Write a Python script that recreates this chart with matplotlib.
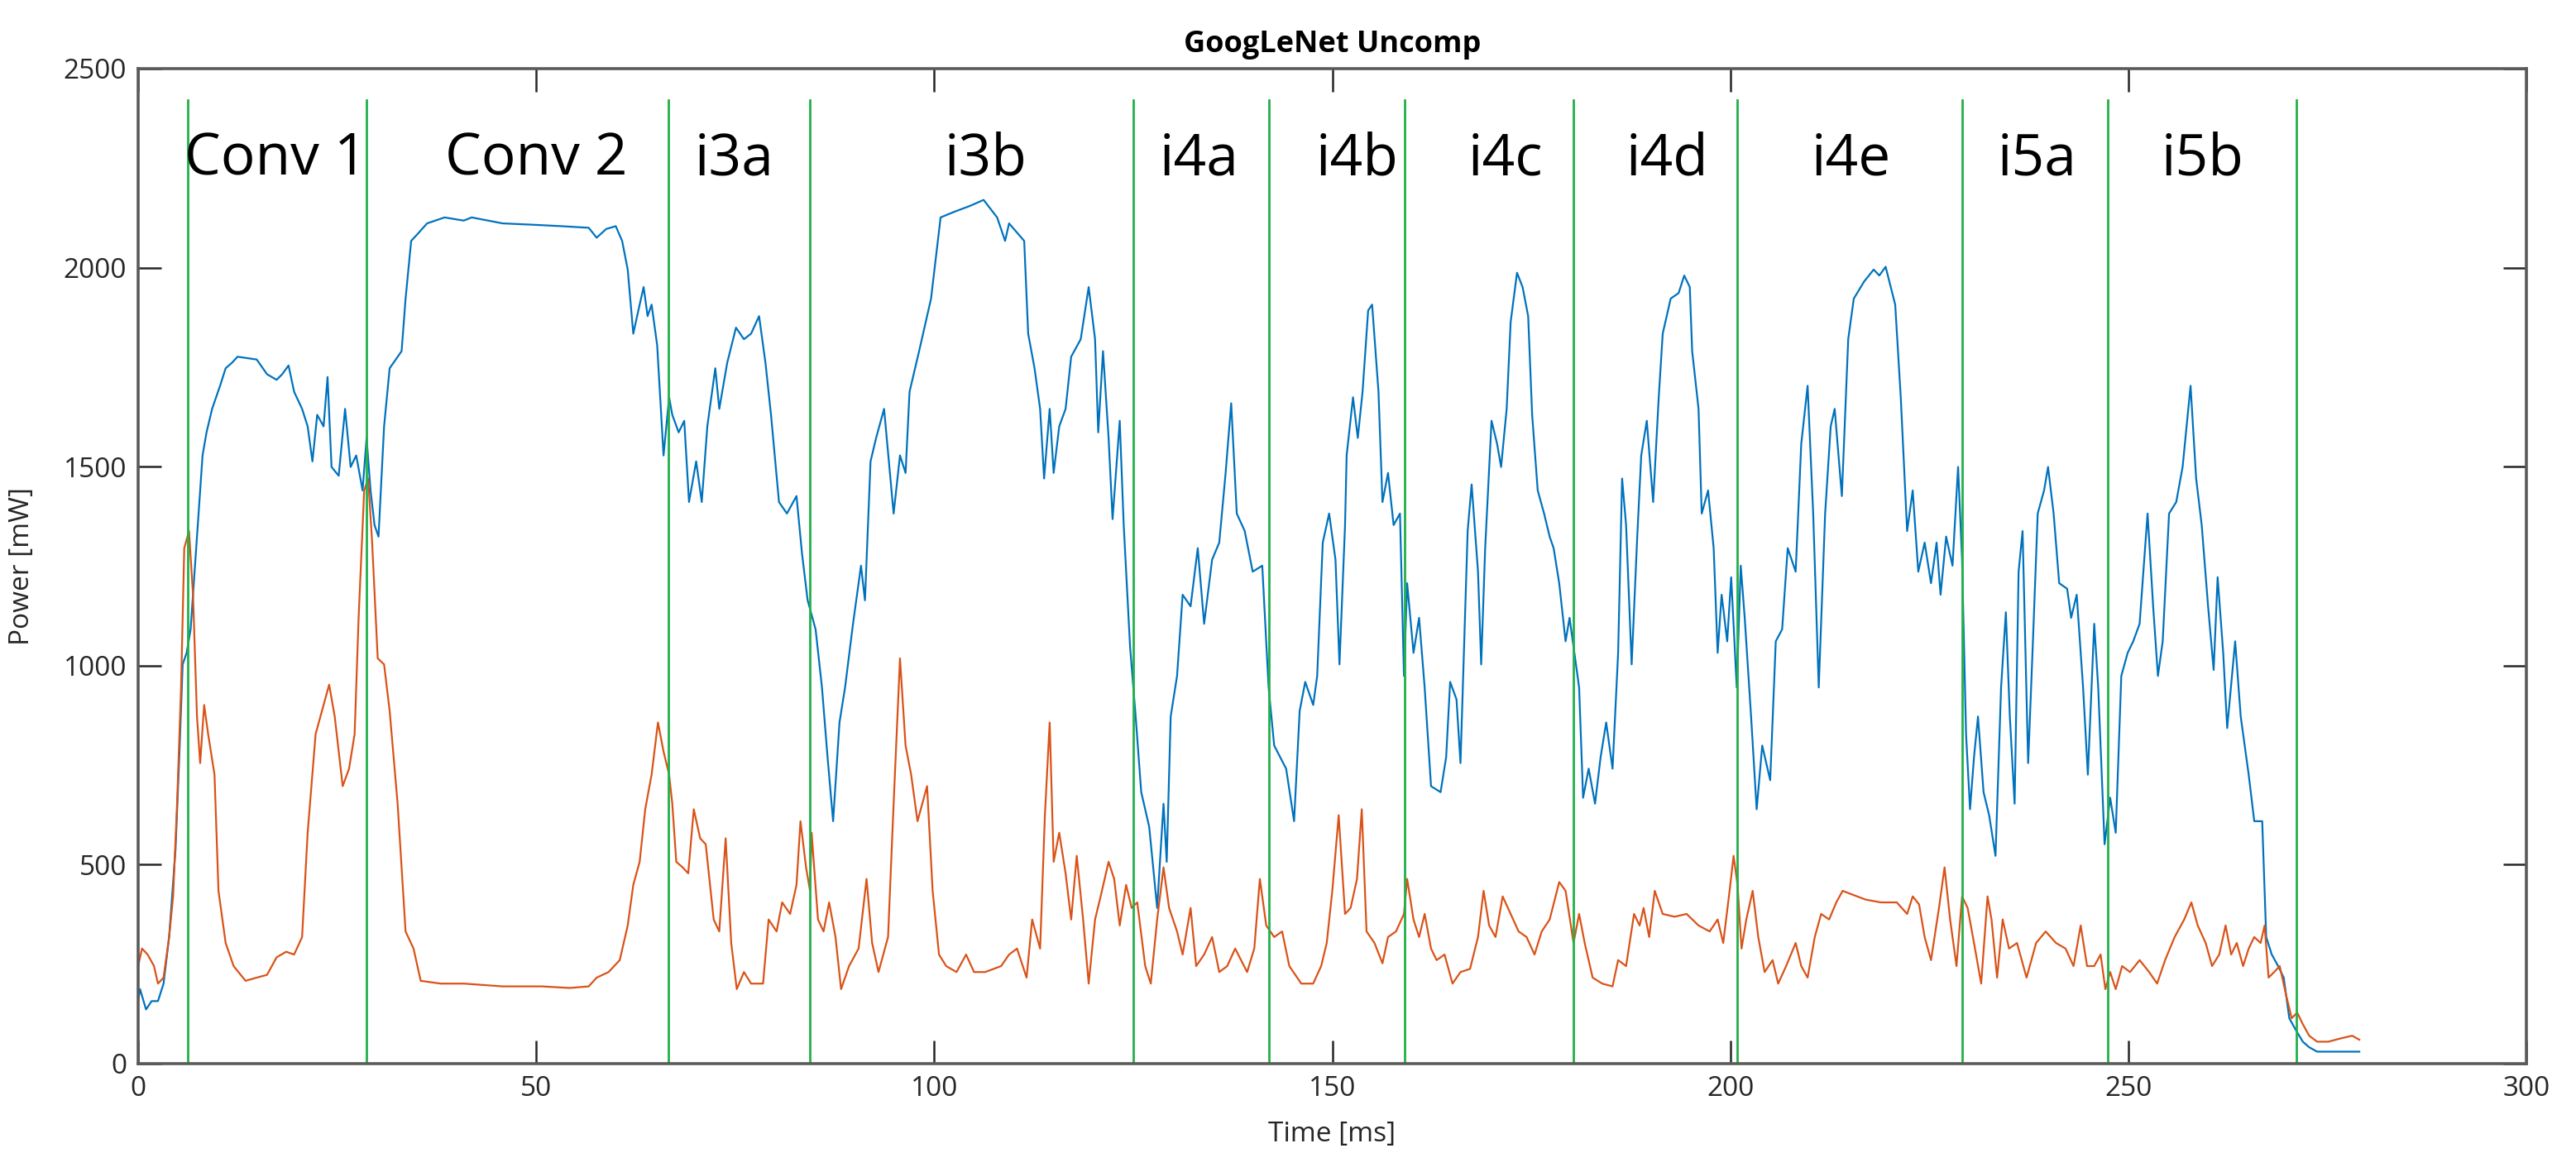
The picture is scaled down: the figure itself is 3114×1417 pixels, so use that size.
import matplotlib
matplotlib.use("Agg")
import matplotlib.pyplot as plt

plt.rcParams['font.family'] = ['Open Sans', 'DejaVu Sans']

# --- datos (tiempo en ms, potencia en mW) ---
blue_t = [0, 0.25, 1.0, 1.7, 2.5, 3.2, 3.9, 4.7, 5.2, 5.6, 6.1, 6.6, 7.1, 7.6, 8.1, 8.6, 9.3, 9.8,
          10.3, 11.0, 11.8, 12.5, 13.5, 14.9, 16.2, 17.4, 18.1, 18.9, 19.6, 20.6, 21.3, 21.9, 22.5,
          23.3, 23.8, 24.3, 25.2, 26.0, 26.7, 27.4, 28.2, 28.7, 29.2, 29.7, 30.2, 30.9, 31.6, 33.1,
          33.6, 34.3, 35.0, 36.3, 38.5, 40.9, 41.9, 45.8, 49.2, 53.2, 56.6, 57.6, 58.8, 60.0, 60.8,
          61.5, 62.2, 63.0, 63.5, 64.0, 64.5, 65.2, 66.0, 66.7, 67.1, 67.9, 68.6, 69.2, 70.1, 70.8,
          71.5, 72.5, 73.0, 74.0, 75.1, 76.1, 77.0, 78.0, 78.8, 79.5, 80.5, 81.5, 82.7, 83.4, 84.1,
          85.1, 85.9, 86.6, 87.3, 88.1, 88.8, 89.8, 90.8, 91.3, 92.0, 92.7, 93.7, 94.9, 95.7, 96.4,
          96.9, 98.1, 99.6, 100.8, 102.5, 104.5, 106.2, 107.9, 108.9, 109.4, 111.3, 111.8, 112.6,
          113.3, 113.8, 114.5, 115.0, 115.7, 116.5, 117.2, 118.4, 119.4, 120.2, 120.6, 121.2, 121.9,
          122.4, 123.3, 123.8, 124.6, 125.3, 126.0, 127.0, 128.0, 128.8, 129.2, 129.7, 130.5, 131.2,
          132.2, 133.1, 133.9, 134.9, 135.8, 136.6, 137.3, 138.0, 139.0, 140.0, 141.2, 142.0, 142.7,
          144.2, 145.2, 145.9, 146.6, 147.6, 148.1, 148.8, 149.6, 150.4, 150.9, 151.6, 151.8, 152.6,
          153.2, 153.8, 154.5, 155.0, 155.8, 156.3, 157.0, 157.7, 158.5, 159.0, 159.4, 160.2, 160.9,
          161.6, 162.4, 163.6, 164.3, 164.8, 165.6, 166.1, 167.0, 167.5, 168.3, 168.7, 169.2, 170.0,
          170.7, 171.2, 171.9, 172.4, 173.2, 173.9, 174.6, 175.1, 175.8, 176.6, 177.3, 177.8, 178.5,
          179.3, 179.8, 180.3, 181.0, 181.5, 182.2, 183.0, 183.7, 184.4, 185.2, 185.9, 186.4, 186.9,
          187.6, 188.3, 188.8, 189.5, 190.3, 191.0, 191.5, 192.5, 193.5, 194.2, 194.9, 195.2, 196.0,
          196.4, 197.2, 197.9, 198.4, 198.9, 199.6, 200.1, 200.8, 201.3, 201.8, 202.6, 203.3, 204.0,
          205.0, 205.7, 206.5, 207.2, 208.2, 208.9, 209.7, 210.4, 211.1, 211.9, 212.6, 213.1, 214.0,
          214.8, 215.5, 216.8, 218.0, 218.7, 219.5, 220.7, 221.4, 222.2, 222.9, 223.6, 224.4, 225.2,
          225.9, 226.4, 227.1, 227.9, 228.6, 229.1, 229.6, 230.1, 230.6, 231.1, 231.8, 232.5, 233.3,
          234.0, 234.6, 235.1, 235.7, 236.2, 236.7, 237.4, 238.0, 238.6, 239.4, 239.9, 240.6, 241.3,
          242.3, 242.8, 243.5, 244.3, 244.9, 245.7, 246.2, 247.0, 247.7, 248.4, 249.1, 249.9, 250.6,
          251.4, 252.4, 253.1, 253.7, 254.3, 255.1, 256.0, 256.8, 257.8, 258.5, 259.2, 260.0, 260.7,
          261.2, 261.9, 262.4, 263.4, 264.1, 265.1, 265.8, 266.8, 267.3, 268.0, 268.8, 269.5, 270.2,
          271.0, 271.9, 272.7, 273.7, 279.0]
blue_p = [157, 187, 136, 157, 157, 201, 318, 537, 784, 1003, 1032, 1091, 1236, 1382, 1528, 1586, 1645, 1674,
          1703, 1747, 1761, 1776, 1773, 1769, 1732, 1718, 1732, 1754, 1688, 1645, 1601, 1513, 1630,
          1601, 1725, 1499, 1477, 1645, 1499, 1528, 1440, 1572, 1440, 1353, 1324, 1601, 1747, 1790,
          1922, 2067, 2082, 2111, 2126, 2118, 2126, 2111, 2108, 2104, 2100, 2075, 2097, 2104, 2067,
          1995, 1834, 1907, 1951, 1878, 1907, 1805, 1528, 1674, 1630, 1586, 1615, 1411, 1513, 1411,
          1601, 1747, 1645, 1761, 1849, 1820, 1834, 1878, 1761, 1630, 1411, 1382, 1426, 1280, 1164,
          1091, 945, 770, 609, 857, 945, 1105, 1251, 1164, 1513, 1572, 1645, 1382, 1528, 1484,
          1688, 1790, 1922, 2126, 2140, 2155, 2170, 2126, 2067, 2111, 2067, 1834, 1747,
          1645, 1470, 1645, 1484, 1601, 1645, 1776, 1820, 1951, 1820, 1586, 1790, 1572,
          1368, 1615, 1353, 1047, 872, 682, 595, 391, 653, 507, 872, 974, 1178,
          1149, 1295, 1105, 1266, 1309, 1484, 1659, 1382, 1338, 1236, 1251, 945, 799,
          741, 609, 886, 959, 901, 974, 1309, 1382, 1266, 1003, 1353, 1528, 1674,
          1572, 1688, 1892, 1907, 1688, 1411, 1484, 1353, 1382, 974, 1207, 1032, 1120,
          945, 697, 682, 770, 959, 915, 755, 1338, 1455, 1236, 1003, 1295, 1615,
          1557, 1499, 1645, 1863, 1987, 1951, 1878, 1630, 1440, 1382, 1324, 1295, 1207,
          1061, 1120, 1047, 945, 668, 741, 653, 770, 857, 741, 1032, 1470, 1353,
          1003, 1324, 1528, 1615, 1411, 1674, 1834, 1922, 1936, 1980, 1951, 1790, 1645,
          1382, 1440, 1295, 1032, 1178, 1061, 1222, 945, 1251, 1120, 872, 639, 799,
          712, 1061, 1091, 1295, 1236, 1557, 1703, 1382, 945, 1382, 1601, 1645, 1426,
          1820, 1922, 1965, 1995, 1980, 2002, 1907, 1674, 1338, 1440, 1236, 1309, 1207,
          1309, 1178, 1324, 1251, 1499, 1266, 828, 639, 770, 872, 682, 624, 522,
          945, 1134, 872, 653, 1236, 1338, 755, 1061, 1382, 1440, 1499, 1382, 1207,
          1193, 1120, 1178, 945, 726, 1105, 945, 551, 668, 580, 974, 1032, 1061,
          1105, 1382, 1149, 974, 1061, 1382, 1411, 1499, 1703, 1470, 1353, 1149, 989,
          1222, 1032, 843, 1061, 872, 726, 609, 609, 318, 274, 245, 216, 114,
          85, 55, 41, 30, 30]

orange_t = [0, 0.5, 1.2, 2.0, 2.5, 3.2, 3.9, 4.4, 4.9, 5.4, 5.8, 6.4, 6.9, 7.4, 7.8, 8.3, 8.8, 9.6,
            10.1, 11.0, 12.0, 13.5, 14.9, 16.2, 17.4, 18.6, 19.6, 20.6, 21.3, 22.3, 23.3, 24.0, 24.7,
            25.7, 26.5, 27.2, 27.7, 28.4, 28.9, 29.4, 30.1, 30.9, 31.6, 32.6, 33.6, 34.6, 35.5, 38.0,
            40.9, 45.8, 50.7, 54.2, 56.6, 57.6, 59.1, 60.5, 61.5, 62.2, 63.0, 63.7, 64.5, 65.3, 66.0,
            66.7, 67.1, 67.6, 68.4, 69.1, 69.8, 70.6, 71.3, 72.3, 73.0, 73.8, 74.5, 75.2, 76.1, 77.0,
            78.5, 79.2, 80.2, 80.9, 81.9, 82.7, 83.2, 83.9, 84.4, 84.6, 85.4, 86.1, 86.8, 87.6, 88.3,
            89.3, 90.5, 91.5, 92.2, 93.0, 94.2, 94.9, 95.7, 96.4, 97.1, 97.9, 99.1, 99.8, 100.6, 101.5,
            102.8, 104.0, 105.0, 106.4, 108.4, 109.4, 110.4, 111.6, 112.3, 113.3, 113.9, 114.5, 115.0,
            115.7, 116.5, 117.2, 117.9, 118.7, 119.4, 120.2, 120.9, 121.9, 122.6, 123.3, 124.1, 124.8,
            125.5, 126.5, 127.2, 128.0, 128.8, 129.5, 130.5, 131.2, 132.2, 132.9, 133.9, 134.9, 135.8,
            136.8, 137.8, 139.3, 140.2, 140.9, 141.7, 142.7, 143.7, 144.6, 146.1, 147.6, 148.6, 149.3,
            150.0, 150.8, 151.6, 152.3, 153.1, 153.7, 154.3, 155.3, 156.3, 157.0, 158.0, 159.0, 159.4,
            160.2, 160.9, 161.6, 162.4, 163.1, 164.1, 165.1, 166.1, 167.3, 168.3, 169.0, 169.7, 170.5,
            171.4, 172.4, 173.4, 174.4, 175.4, 176.3, 177.3, 178.5, 179.3, 180.3, 181.0, 181.7, 182.7,
            183.9, 185.2, 185.9, 186.9, 187.9, 188.6, 189.1, 189.8, 190.5, 191.5, 193.0, 194.5, 196.0,
            197.4, 198.4, 199.1, 199.9, 200.4, 200.9, 201.4, 202.0, 202.8, 203.5, 204.3, 205.3, 206.0,
            207.0, 208.2, 208.9, 209.7, 210.6, 211.4, 212.4, 213.3, 214.1, 215.0, 217.0, 218.9, 220.9,
            222.2, 222.9, 223.7, 224.4, 225.2, 226.2, 226.9, 227.6, 228.4, 229.1, 229.8, 230.6, 231.5,
            232.3, 232.8, 233.5, 234.2, 235.0, 236.0, 237.2, 238.4, 239.6, 240.9, 242.1, 243.1, 244.0,
            244.8, 245.7, 246.5, 247.1, 247.7, 248.4, 249.2, 250.2, 251.4, 252.6, 253.6, 254.6, 255.8,
            257.0, 257.9, 258.7, 259.7, 260.5, 261.4, 262.2, 262.9, 263.6, 264.4, 265.1, 265.8, 266.6,
            267.1, 267.6, 268.3, 269.0, 269.8, 270.5, 271.2, 271.9, 272.7, 273.7, 275.1, 276.6, 278.1,
            279.0]
orange_p = [245, 289, 274, 245, 201, 216, 318, 420, 653, 945, 1295, 1338, 1178, 872, 755, 901, 828, 726,
            434, 303, 245, 208, 216, 223, 267, 281, 274, 318, 580, 828, 901, 952, 872,
            697, 741, 828, 1120, 1440, 1470, 1309, 1018, 1003, 886, 653, 332, 289, 208, 201,
            201, 194, 194, 190, 194, 216, 230, 260, 347, 449, 507, 639, 726, 857, 784,
            726, 653, 507, 493, 478, 639, 566, 551, 362, 332, 566, 303, 187, 230, 201,
            201, 362, 332, 405, 376, 449, 609, 493, 434, 580, 362, 332, 405, 318, 187,
            245, 289, 464, 303, 230, 318, 653, 1018, 799, 726, 609, 697, 434, 274, 245,
            230, 274, 230, 230, 245, 274, 289, 216, 362, 289, 624, 857, 507,
            580, 478, 362, 522, 362, 201, 362, 420, 507, 464, 347, 449, 391,
            405, 245, 201, 362, 493, 391, 332, 274, 391, 245, 274, 318, 230,
            245, 289, 230, 289, 464, 347, 318, 332, 245, 201, 201, 245, 303,
            434, 624, 376, 391, 464, 639, 332, 303, 252, 318, 332, 376, 464,
            362, 318, 376, 289, 260, 274, 201, 230, 238, 318, 434, 347, 318,
            420, 376, 332, 318, 274, 332, 362, 456, 434, 303, 376, 303, 216,
            201, 194, 260, 245, 376, 347, 391, 318, 434, 376, 369, 376, 347,
            332, 362, 303, 434, 522, 449, 289, 362, 434, 318, 230, 260, 201,
            245, 303, 245, 216, 318, 376, 362, 405, 434, 427, 412, 405, 405,
            376, 420, 400, 318, 260, 391, 493, 362, 245, 420, 391, 303, 201,
            420, 362, 216, 362, 289, 303, 216, 303, 332, 303, 289, 245, 347,
            245, 245, 274, 187, 230, 187, 245, 230, 260, 230, 201, 260, 318,
            362, 405, 347, 303, 245, 274, 347, 274, 303, 245, 289, 318, 303,
            347, 216, 230, 245, 172, 114, 128, 99, 70, 55, 55, 63, 70,
            60]

# limites entre capas y sus nombres
layer_edges = [6.2, 28.7, 66.6, 84.4, 125.0, 142.0, 159.1, 180.3, 200.9, 229.1, 247.4, 271.1]
layer_names = ['Conv 1', 'Conv 2', 'i3a', 'i3b', 'i4a', 'i4b', 'i4c', 'i4d', 'i4e', 'i5a', 'i5b']
label_x = [17.3, 50.0, 74.9, 106.5, 133.3, 153.1, 171.7, 192.1, 215.2, 238.5, 259.3]

fig = plt.figure(figsize=(31.14, 14.17), dpi=100)
ax = fig.add_axes([0.0536, 0.0925, 0.9272, 0.849])

ax.plot(blue_t, blue_p, color='#0072BD', lw=1.6)
ax.plot(orange_t, orange_p, color='#D95319', lw=1.6)

for x in layer_edges:
    ax.plot([x, x], [0, 2420], color='#22B04A', lw=2)

for name, x in zip(layer_names, label_x):
    ax.text(x, 2270, name, ha='center', va='center', fontsize=50, color='black')

ax.set_xlim(0, 300)
ax.set_ylim(0, 2500)
ax.set_xticks(range(0, 301, 50))
ax.set_yticks(range(0, 2501, 500))
ax.tick_params(direction='in', length=20, width=1.8, top=True, right=True,
               labelsize=24, colors='#262626', pad=10)
for s in ax.spines.values():
    s.set_color('#5a5a5a')
    s.set_linewidth(2.6)

ax.set_xlabel('Time [ms]', fontsize=24, color='#262626', labelpad=16)
ax.set_ylabel('Power [mW]', fontsize=24, color='#262626', labelpad=24)
ax.set_title('GoogLeNet Uncomp', fontsize=26, fontweight='bold', pad=14)

fig.savefig('out.png', dpi=100)
